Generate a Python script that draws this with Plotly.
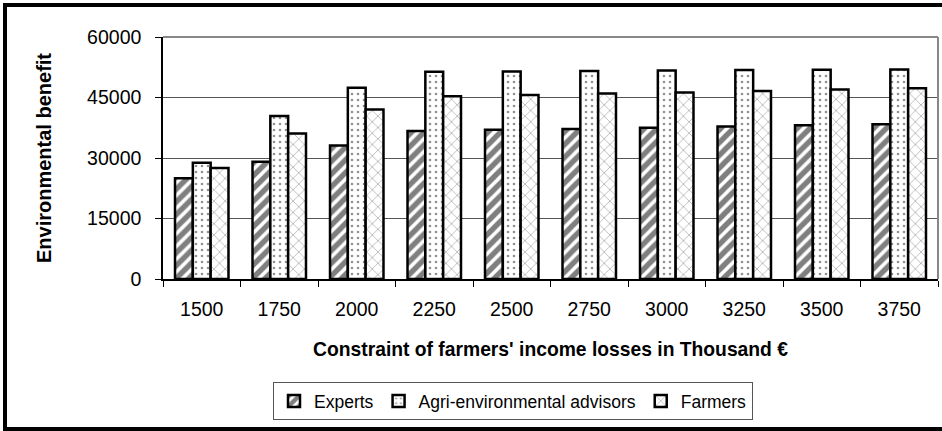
import plotly.graph_objects as go

categories = ["1500", "1750", "2000", "2250", "2500", "2750", "3000", "3250", "3500", "3750"]
experts = [25000, 29100, 33100, 36700, 37000, 37200, 37500, 37800, 38100, 38350]
advisors = [28800, 40400, 47400, 51400, 51450, 51600, 51700, 51800, 51850, 51950]
farmers = [27500, 36100, 42000, 45300, 45600, 46000, 46250, 46600, 47000, 47300]
y_ticks = [0, 15000, 30000, 45000, 60000]

W, H = 942, 431
L, R, T, B = 163, 4, 37, 152
pw, ph = W - L - R, H - T - B

def px(x):
    return (x - L) / pw

def py(y):
    return (H - B - y) / ph

fig = go.Figure()
fig.add_trace(go.Bar(
    x=categories, y=experts, name="Experts",
    marker=dict(color="white", line=dict(color="black", width=2.5),
                pattern=dict(shape="/", fgcolor="black", bgcolor="white", size=9, solidity=0.6)),
))
fig.add_trace(go.Bar(
    x=categories, y=advisors, name="Agri-environmental advisors",
    marker=dict(color="white", line=dict(color="black", width=2.5),
                pattern=dict(shape=".", fgcolor="#222222", bgcolor="white", size=6, solidity=0.15)),
))
fig.add_trace(go.Bar(
    x=categories, y=farmers, name="Farmers",
    marker=dict(color="white", line=dict(color="black", width=2.5),
                pattern=dict(shape="x", fgcolor="#222222", bgcolor="white", size=8, solidity=0.14)),
))

font = "Liberation Sans, Arial, sans-serif"
fig.update_layout(
    width=W, height=H,
    margin=dict(l=L, r=R, t=T, b=B),
    paper_bgcolor="white", plot_bgcolor="white",
    barmode="group", bargap=0.31, bargroupgap=0,
    font=dict(family=font, size=18, color="black"),
    showlegend=True,
    legend=dict(orientation="h", x=px(513), xanchor="center", y=py(401), yanchor="middle",
                bordercolor="#555555", borderwidth=1, bgcolor="white",
                font=dict(size=17.5), itemwidth=30, tracegroupgap=0),
    xaxis=dict(type="category", showline=True, linecolor="black", linewidth=1.5,
               ticks="outside", ticklen=6, tickcolor="black", tickson="boundaries",
               ticklabelstandoff=12,
               showgrid=False, tickfont=dict(size=19.5),
               title=dict(text="<b>Constraint of farmers' income losses in Thousand €</b>",
                          font=dict(size=19.3), standoff=23)),
    yaxis=dict(range=[0, 60000], tickvals=y_ticks, ticktext=[str(v) for v in y_ticks],
               showline=True, linecolor="black", linewidth=1.5,
               ticks="outside", ticklen=6, tickcolor="black",
               ticklabelstandoff=10,
               showgrid=True, gridcolor="#555555", gridwidth=1, zeroline=False,
               tickfont=dict(size=19.5),
               title=dict(text="<b>Environmental benefit</b>", font=dict(size=20), standoff=30)),
    shapes=[
        dict(type="line", xref="paper", yref="paper", x0=0, x1=1, y0=1, y1=1,
             line=dict(color="#888888", width=2)),
        dict(type="line", xref="paper", yref="paper", x0=1, x1=1, y0=0, y1=1,
             line=dict(color="#888888", width=2)),
        dict(type="rect", xref="paper", yref="paper",
             x0=px(5), x1=px(970), y0=py(429), y1=py(5),
             line=dict(color="black", width=4)),
    ],
)

fig.write_html("out.html", config={"displayModeBar": False},
               post_script="document.body.style.margin='0px';")
